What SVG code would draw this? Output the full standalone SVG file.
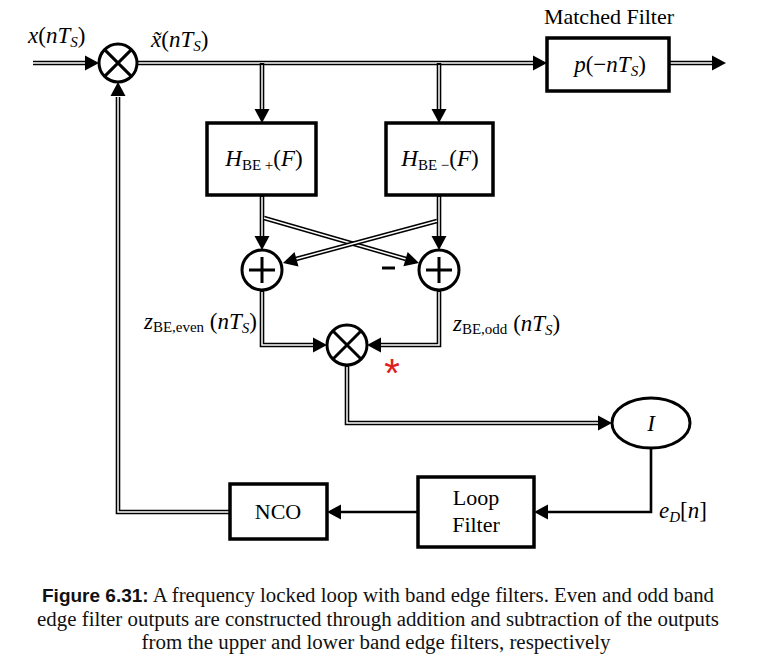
<svg xmlns="http://www.w3.org/2000/svg" xmlns:xlink="http://www.w3.org/1999/xlink" width="757" height="665" viewBox="0 0 757 665">
<style>
.bg{fill:#fff}
.box{fill:#fff;stroke:#000;stroke-width:3.5}
.circ{fill:#fff;stroke:#000;stroke-width:3}
.sym{stroke:#000;stroke-width:3;fill:none;stroke-linecap:butt}
.dbo{fill:none;stroke:#000;stroke-width:4.6;stroke-linejoin:miter}
.dbi{fill:none;stroke:#fff;stroke-width:1.5;stroke-linejoin:miter}
.sgl{fill:none;stroke:#000;stroke-width:2.6}
.m{font-family:"Liberation Serif","DejaVu Serif",serif;font-size:23px;fill:#000}
.i{font-style:italic}
.sub{font-size:15px}
.lbl{font-family:"Liberation Serif","DejaVu Serif",serif;font-size:22px;fill:#000}
.cap{font-family:"Liberation Serif","DejaVu Serif",serif;font-size:20.8px;fill:#111}
.capb{font-family:"Liberation Sans","DejaVu Sans",sans-serif;font-size:19px;font-weight:bold}
</style>
<defs>
<polygon id="ah" points="0,0 -14,-7.5 -14,7.5" fill="#000"/>
</defs>
<rect class="bg" x="0" y="0" width="757" height="665"/>

<g id="connectors">
  <g id="double-lines">
    <path class="dbo" d="M33,63 H86"/>
    <path class="dbi" d="M33,63 H86"/>
    <path class="dbo" d="M137,63 H534"/>
    <path class="dbi" d="M137,63 H534"/>
    <path class="dbo" d="M670,63 H712"/>
    <path class="dbi" d="M670,63 H712"/>
    <path class="dbo" d="M262,63 V110"/>
    <path class="dbi" d="M262,65 V110"/>
    <path class="dbo" d="M439,63 V110"/>
    <path class="dbi" d="M439,65 V110"/>
    <path class="dbo" d="M262,195 V237"/>
    <path class="dbi" d="M262,197 V237"/>
    <path class="dbo" d="M439,195 V237"/>
    <path class="dbi" d="M439,197 V237"/>
    <path class="dbo" d="M264,218 L406,259"/>
    <path class="dbi" d="M264,218 L406,259"/>
    <path class="dbo" d="M437,221 L296,259"/>
    <path class="dbi" d="M437,221 L296,259"/>
    <path class="dbo" d="M262,290 V345 H314"/>
    <path class="dbi" d="M262,292 V345 H314"/>
    <path class="dbo" d="M439,290 V345 H381"/>
    <path class="dbi" d="M439,292 V345 H381"/>
    <path class="dbo" d="M347,365 V423 H599"/>
    <path class="dbi" d="M347,367 V423 H599"/>
    <path class="dbo" d="M230,512 H118 V97"/>
    <path class="dbi" d="M230,512 H118 V97"/>
  </g>
  <path class="sgl" d="M651,448 V512 H548"/>
  <path class="sgl" d="M418,512 H341"/>
  <use xlink:href="#ah" transform="translate(99,63)"/>
  <use xlink:href="#ah" transform="translate(547,63)"/>
  <use xlink:href="#ah" transform="translate(726,63)"/>
  <use xlink:href="#ah" transform="translate(262,123) rotate(90)"/>
  <use xlink:href="#ah" transform="translate(439,123) rotate(90)"/>
  <use xlink:href="#ah" transform="translate(262,250) rotate(90)"/>
  <use xlink:href="#ah" transform="translate(439,250) rotate(90)"/>
  <use xlink:href="#ah" transform="translate(419,263) rotate(16.2)"/>
  <use xlink:href="#ah" transform="translate(283,263) rotate(164.7)"/>
  <use xlink:href="#ah" transform="translate(327,345)"/>
  <use xlink:href="#ah" transform="translate(367,345) rotate(180)"/>
  <use xlink:href="#ah" transform="translate(612,423)"/>
  <use xlink:href="#ah" transform="translate(534,512) rotate(180)"/>
  <use xlink:href="#ah" transform="translate(327,512) rotate(180)"/>
  <use xlink:href="#ah" transform="translate(118,82) rotate(-90)"/>
</g>

<g id="mixer1">
  <circle class="circ" cx="118" cy="63" r="19"/>
  <path class="sym" d="M104.6,49.6 L131.4,76.4 M131.4,49.6 L104.6,76.4"/>
</g>
<text class="m" x="28" y="43"><tspan class="i">x</tspan>(<tspan class="i">nT</tspan><tspan class="sub i" dy="4">S</tspan><tspan dy="-4">)</tspan></text>
<text class="m" x="151" y="47"><tspan class="i">x̃</tspan>(<tspan class="i">nT</tspan><tspan class="sub i" dy="4">S</tspan><tspan dy="-4">)</tspan></text>

<g id="matched-filter">
  <text class="lbl" x="609" y="24" text-anchor="middle">Matched Filter</text>
  <rect class="box" x="547" y="38" width="122" height="53"/>
  <text class="m" x="610" y="72" text-anchor="middle"><tspan class="i">p</tspan>(−<tspan class="i">nT</tspan><tspan class="sub i" dy="4">S</tspan><tspan dy="-4">)</tspan></text>
</g>

<g id="hbe-plus">
  <rect class="box" x="207" y="123" width="109" height="72"/>
  <text class="m" x="264" y="166" text-anchor="middle"><tspan class="i">H</tspan><tspan class="sub" dy="4">BE +</tspan><tspan dy="-4">(</tspan><tspan class="i">F</tspan>)</text>
</g>
<g id="hbe-minus">
  <rect class="box" x="386" y="123" width="107" height="72"/>
  <text class="m" x="440" y="166" text-anchor="middle"><tspan class="i">H</tspan><tspan class="sub" dy="4">BE −</tspan><tspan dy="-4">(</tspan><tspan class="i">F</tspan>)</text>
</g>

<g id="sum-left">
  <circle class="circ" cx="262" cy="270" r="20"/>
  <path class="sym" d="M249,270 H275 M262,257 V283"/>
</g>
<g id="sum-right">
  <circle class="circ" cx="439" cy="270" r="20"/>
  <path class="sym" d="M426,270 H452 M439,257 V283"/>
</g>
<path class="sym" d="M382,268 H395" stroke-width="2.5"/>

<text class="m" x="257" y="329" text-anchor="end"><tspan class="i">z</tspan><tspan class="sub" dy="3">BE,even</tspan><tspan dy="-3"> (</tspan><tspan class="i">nT</tspan><tspan class="sub i" dy="4">S</tspan><tspan dy="-4">)</tspan></text>
<text class="m" x="453" y="331"><tspan class="i">z</tspan><tspan class="sub" dy="3">BE,odd</tspan><tspan dy="-3"> (</tspan><tspan class="i">nT</tspan><tspan class="sub i" dy="4">S</tspan><tspan dy="-4">)</tspan></text>

<g id="mixer2">
  <circle class="circ" cx="347" cy="345" r="20"/>
  <path class="sym" d="M333,331 L361,359 M361,331 L333,359"/>
</g>
<text x="392" y="387" text-anchor="middle" font-family="Liberation Sans, sans-serif" font-size="40" fill="#e02020">*</text>

<g id="integrator">
  <ellipse class="circ" cx="651" cy="423" rx="39" ry="25"/>
  <text class="m i" x="651" y="431" text-anchor="middle">I</text>
</g>
<text class="m" x="659" y="518"><tspan class="i">e</tspan><tspan class="sub i" dy="4">D</tspan><tspan dy="-4">[</tspan><tspan class="i">n</tspan>]</text>

<g id="loop-filter">
  <rect class="box" x="418" y="477" width="116" height="70"/>
  <text class="lbl" x="476" y="505" text-anchor="middle">Loop</text>
  <text class="lbl" x="476" y="532" text-anchor="middle">Filter</text>
</g>
<g id="nco">
  <rect class="box" x="230" y="484" width="97" height="55"/>
  <text class="lbl" x="278" y="519" text-anchor="middle">NCO</text>
</g>

<g id="caption">
  <text class="cap" x="378" y="602" text-anchor="middle" textLength="672" lengthAdjust="spacingAndGlyphs"><tspan class="capb">Figure 6.31:</tspan> A frequency locked loop with band edge filters. Even and odd band</text>
  <text class="cap" x="378" y="626" text-anchor="middle" textLength="682" lengthAdjust="spacingAndGlyphs">edge filter outputs are constructed through addition and subtraction of the outputs</text>
  <text class="cap" x="376" y="649" text-anchor="middle" textLength="469" lengthAdjust="spacingAndGlyphs">from the upper and lower band edge filters, respectively</text>
</g>
</svg>
